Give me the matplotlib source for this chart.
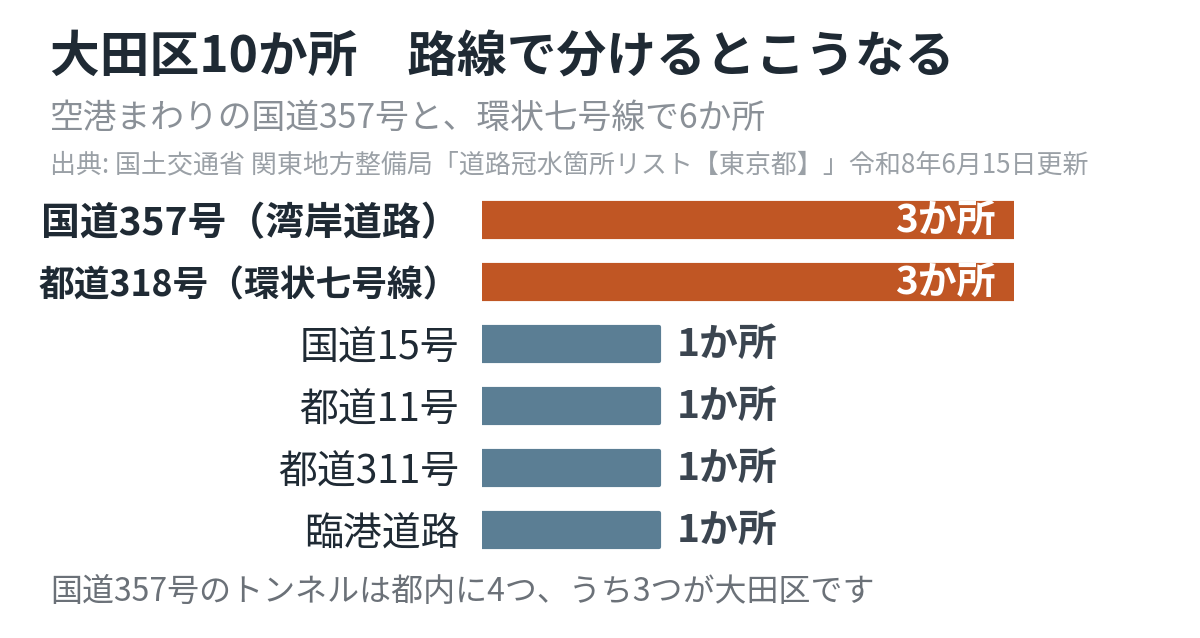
import matplotlib
matplotlib.use("Agg")
import matplotlib.pyplot as plt

plt.rcParams['font.family'] = ['Noto Sans CJK JP', 'DejaVu Sans']

# data
roads = ["国道357号（湾岸道路）", "都道318号（環状七号線）", "国道15号",
         "都道11号", "都道311号", "臨港道路"]
counts = [3, 3, 1, 1, 1, 1]
highlight = [True, True, False, False, False, False]

title = "大田区10か所　路線で分けるとこうなる"
subtitle = "空港まわりの国道357号と、環状七号線で6か所"
source = "出典: 国土交通省 関東地方整備局「道路冠水箇所リスト【東京都】」令和8年6月15日更新"
note = "国道357号のトンネルは都内に4つ、うち3つが大田区です"

ORANGE = "#c05624"
SLATE = "#5b7e94"
DARK = "#1f2a34"
LABEL_MAX_W = 420  # px, long labels get shrunk to fit

W, H = 1200, 638
fig = plt.figure(figsize=(W / 100, H / 100), dpi=100)
fig.patch.set_facecolor("white")

# bars start at x=480, value 3 ends at x=1015 (edge linewidth adds 1.5px per side)
ax = fig.add_axes([481.5 / W, 1 - 561 / H, (1013.5 - 481.5) / W, 372 / H])
ypos = list(range(len(roads)))
colors = [ORANGE if h else SLATE for h in highlight]
ax.barh(ypos, counts, height=0.56, color=colors, edgecolor=colors,
        linewidth=3, joinstyle="round")
ax.set_xlim(0, 3)
ax.set_ylim(len(roads) - 0.5, -0.5)

for s in ax.spines.values():
    s.set_visible(False)
ax.set_xticks([])
ax.set_yticks(ypos)
ax.set_yticklabels(roads, fontsize=28, color=DARK)
ax.tick_params(axis="y", length=0, pad=16)
for lbl, h in zip(ax.get_yticklabels(), highlight):
    if h:
        lbl.set_fontweight("bold")

# shrink labels that are too wide
renderer = fig.canvas.get_renderer()
for lbl in ax.get_yticklabels():
    w = lbl.get_window_extent(renderer).width
    if w > LABEL_MAX_W:
        lbl.set_fontsize(28 * LABEL_MAX_W / w)

for i, v in enumerate(counts):
    txt = f"{v}か所"
    if v >= 2:
        ax.annotate(txt, (v, i), xytext=(-13, 0), textcoords="offset points",
                    ha="right", va="center", fontsize=28, fontweight="bold",
                    color="white")
    else:
        ax.annotate(txt, (v, i), xytext=(13, 0), textcoords="offset points",
                    ha="left", va="center", fontsize=28, fontweight="bold",
                    color="#3b4550")

fig.text(50 / W, 1 - 58 / H, title, fontsize=35.8, fontweight="bold",
         color=DARK, va="center", ha="left")
fig.text(50 / W, 1 - 118 / H, subtitle, fontsize=24.3, color="#8a9097",
         va="center", ha="left")
fig.text(50 / W, 1 - 165 / H, source, fontsize=18.7, color="#9aa0a6",
         va="center", ha="left")
fig.text(50 / W, 1 - 592 / H, note, fontsize=23, color="#6b7178",
         va="center", ha="left")

fig.savefig("out.png", dpi=100, facecolor="white")
